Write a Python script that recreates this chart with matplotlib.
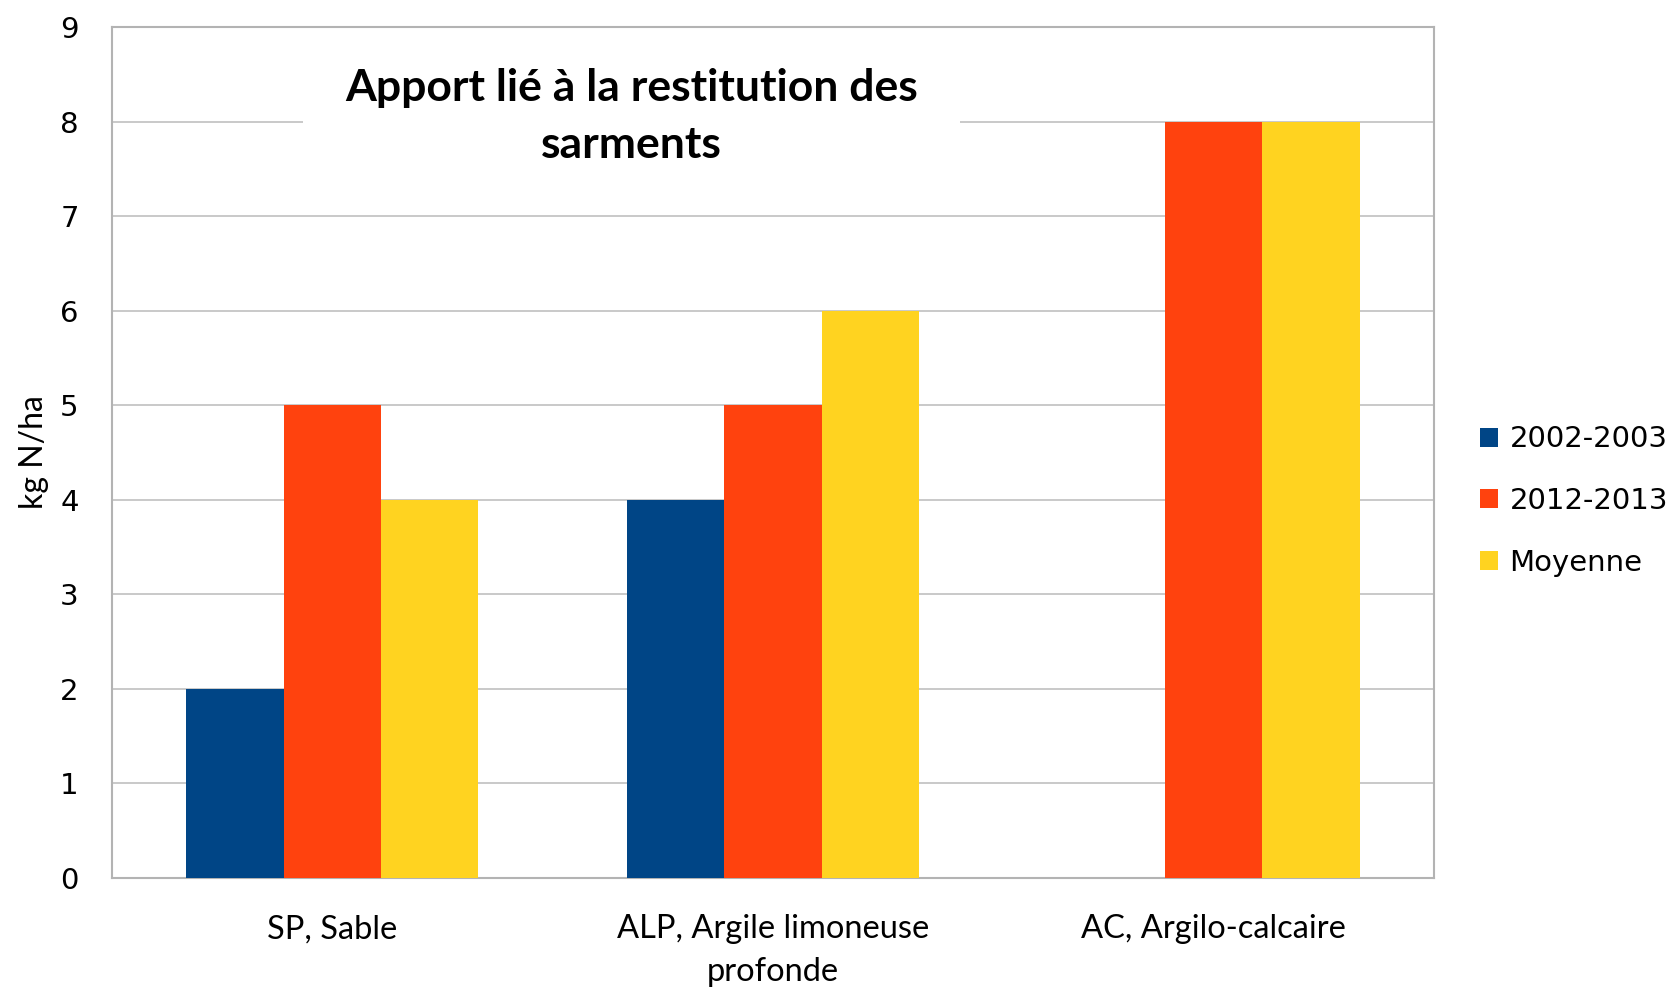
import numpy as np
import matplotlib.pyplot as plt

categories = ["SP, Sable", "ALP, Argile limoneuse\nprofonde", "AC, Argilo-calcaire"]
series_names = ["2002-2003", "2012-2013", "Moyenne"]
v_2002 = [2, 4, 0]
v_2012 = [5, 5, 8]
v_moy = [4, 6, 8]
colors = ["#004586", "#ff420e", "#ffd320"]

fig = plt.figure(figsize=(16.77, 9.9), dpi=100)
ax = fig.add_axes([112 / 1677, 1 - 878 / 990, (1434 - 112) / 1677, (878 - 27) / 990])

x = np.arange(len(categories))
w = 0.221
for i, (vals, name, c) in enumerate(zip([v_2002, v_2012, v_moy], series_names, colors)):
    ax.bar(x + (i - 1) * w, vals, w, color=c, label=name, zorder=3)

ax.set_xlim(-0.5, 2.5)
ax.set_ylim(0, 9)
ax.set_yticks(range(10))
ax.yaxis.grid(True, color="#c0c0c0", linewidth=1.2)
ax.tick_params(axis="y", length=0, pad=24, labelsize=21)
ax.tick_params(axis="x", length=0, pad=26)
ax.set_xticks(x)
ax.set_xticklabels(categories, fontsize=23.5, family="Lato", linespacing=1.55, va="top")
for sp in ax.spines.values():
    sp.set_color("#b3b3b3")
    sp.set_linewidth(1.5)

ax.set_ylabel("kg N/ha", fontsize=23, family="Lato", labelpad=8)

# title sits inside the plot, on a white box that hides the gridlines (spines stay on top)
ax.text(0.393, 0.895, "Apport lié à la restitution des\nsarments", transform=ax.transAxes,
        ha="center", va="center", fontsize=32, fontweight="bold", family="Lato",
        linespacing=1.5, zorder=2,
        bbox=dict(facecolor="white", edgecolor="none", boxstyle="square,pad=0.95"))

leg = ax.legend(loc="center left", bbox_to_anchor=(1.035, 0.443), frameon=False,
                borderaxespad=0, borderpad=0,
                fontsize=21, handlelength=0.62, handleheight=0.62, handletextpad=0.38,
                labelspacing=1.15)

fig.savefig("out.png", dpi=100)
